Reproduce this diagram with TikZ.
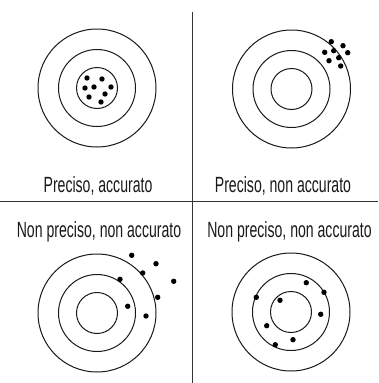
\documentclass[tikz,border=0pt]{standalone}
\usepackage{fontspec}
\newfontfamily\labfont[FakeStretch=0.64]{Liberation Sans}
\begin{document}
\begin{tikzpicture}[x=1pt,y=-1pt,
  ring/.style={draw=black!90,line width=1pt},
  hit/.style={fill=black},
  sep/.style={draw=black!80,line width=1.2pt},
  lab/.style={anchor=base,inner sep=0pt,font=\labfont\fontsize{22}{26}\selectfont,text=black!90}]
\useasboundingbox (0,0) rectangle (378,383);
% separators
\coordinate (vt) at (192.7,12);
\coordinate (vb) at (192.7,383);
\coordinate (hl) at (0,201.7);
\coordinate (hr) at (378,201.7);
\draw[sep] (vt) -- (vb);
\draw[sep] (hl) -- (hr);
% targets
\foreach \cx/\cy in {97/88, 291.5/89, 97/313, 291/312}{
  \draw[ring] (\cx,\cy) circle[radius=59pt];
  \draw[ring] (\cx,\cy) circle[radius=38.5pt];
  \draw[ring] (\cx,\cy) circle[radius=20.5pt];
}
% Q1 dots
\foreach \p in {(87,78),(102,79),(85,88),(94,87),(111,87),(105,94),(89,97),(101,102)}
  \fill[hit] \p circle[radius=2.7pt];
% Q2 dots
\foreach \p in {(331.3,41.7),(343,45.7),(324.7,52.3),(333.7,50.7),(347.7,52.7),(329,60.7),(338.7,57.7),(340.7,66)}
  \fill[hit] \p circle[radius=2.7pt];
% Q3 dots
\foreach \p in {(131.7,255.3),(156,263.7),(142.7,273),(120,279.3),(173.7,281.3),(157.7,297.3),(127.7,306.3),(146,316)}
  \fill[hit] \p circle[radius=2.7pt];
% Q4 dots
\foreach \p in {(306.3,282.7),(324,292.3),(256.3,297.3),(280,300.3),(320.7,314.3),(266.7,325.7),(293,339.7),(275.3,344.7)}
  \fill[hit] \p circle[radius=2.7pt];
% labels
\node[lab] (l1) at (98,192) {Preciso, accurato};
\node[lab] (l2) at (283,192) {Preciso, non accurato};
\node[lab] (l3) at (99,237) {Non preciso, non accurato};
\node[lab] (l4) at (289.5,237) {Non preciso, non accurato};
\end{tikzpicture}
\end{document}
